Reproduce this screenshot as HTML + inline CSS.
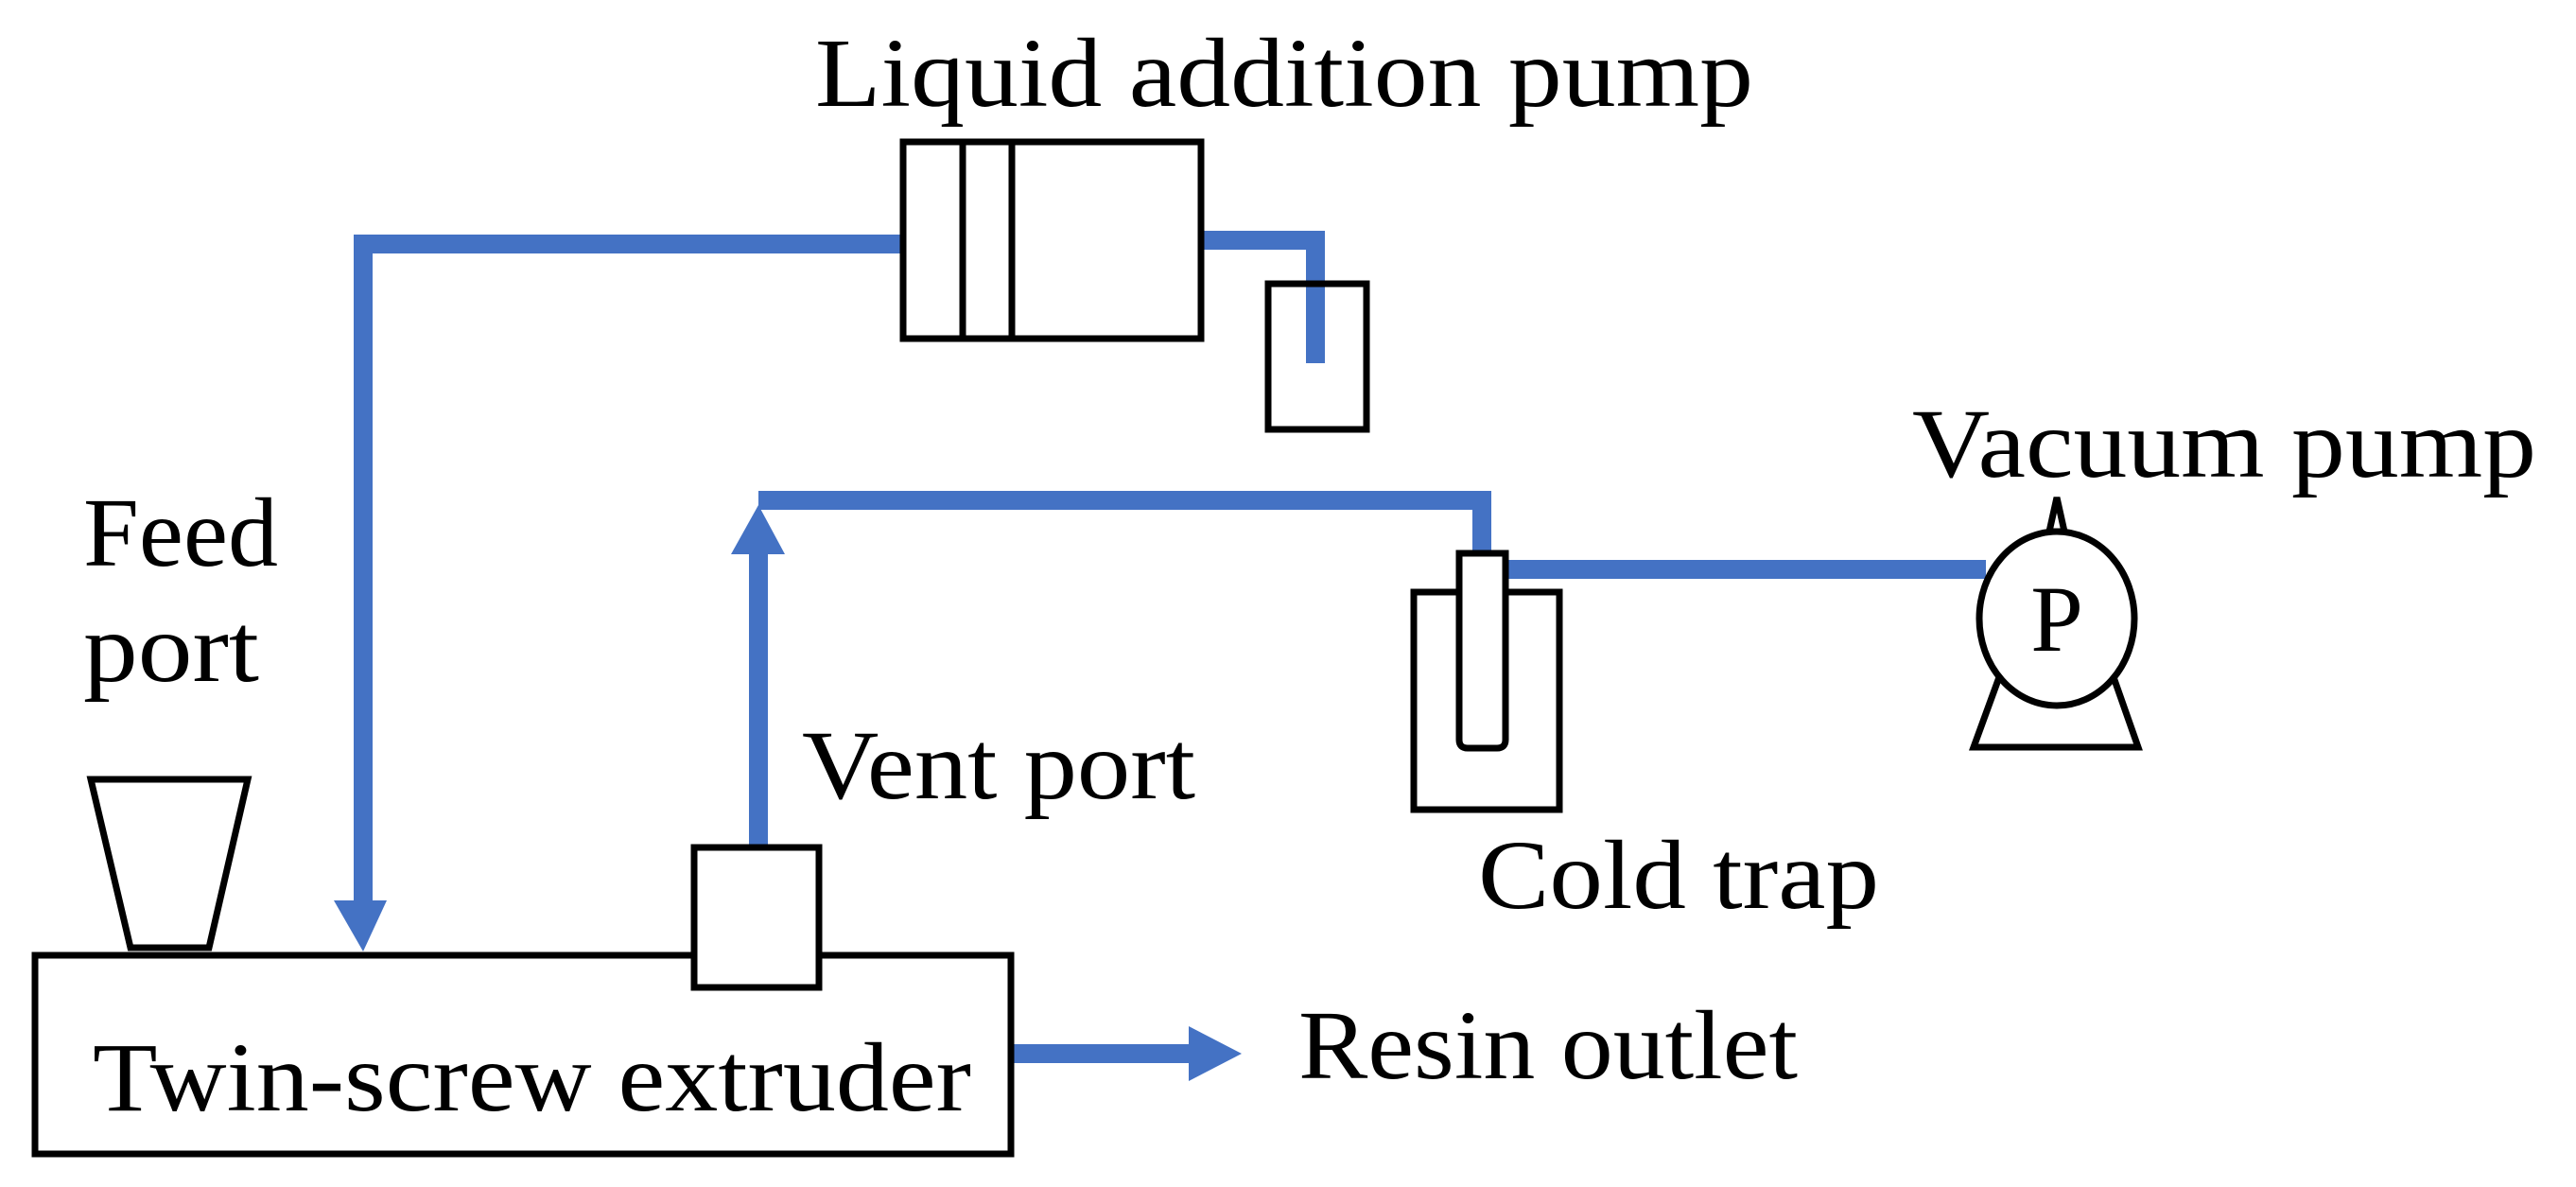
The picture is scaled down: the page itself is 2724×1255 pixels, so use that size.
<!DOCTYPE html>
<html><head><meta charset="utf-8"><style>html,body{margin:0;padding:0;background:#fff}svg{display:block}</style></head>
<body>
<svg width="2724" height="1255" viewBox="0 0 2724 1255" xmlns="http://www.w3.org/2000/svg">
<g fill="none" stroke="#4472C4" stroke-width="20">
<polyline points="955,258 384,258 384,955"/>
<polyline points="1270,254 1391,254 1391,384"/>
<polyline points="802,896 802,580"/>
<polyline points="802,529 1567,529 1567,587"/>
<line x1="1595" y1="602" x2="2100" y2="602"/>
<line x1="1069" y1="1114" x2="1260" y2="1114"/>
</g>
<g fill="#4472C4">
<polygon points="353,952 409,952 384,1006"/>
<polygon points="773,586 830,586 802,534"/>
<polygon points="1257,1085 1257,1143 1313,1114"/>
</g>
<g fill="none" stroke="#000" stroke-width="7">
<rect x="37" y="1010" width="1032" height="210"/>
<polygon points="96,824 262,824 221,1002 138,1002"/>
<rect x="734" y="896" width="132" height="148" fill="#fff"/>
<rect x="955" y="150" width="315" height="208" fill="#fff"/>
<line x1="1018" y1="150" x2="1018" y2="358"/>
<line x1="1070" y1="150" x2="1070" y2="358"/>
<rect x="1341" y="300" width="104" height="154"/>
<rect x="1495" y="626" width="154" height="230"/>
<path d="M1543,585 L1592,585 L1592,782 Q1592,791 1583,791 L1552,791 Q1543,791 1543,782 Z" fill="#fff"/>
<polygon points="2114,716 2087,790 2261,790 2235,716"/>
<ellipse cx="2175" cy="654" rx="82" ry="92" fill="#fff"/>
<polygon points="2167,562 2175,526 2183,562"/>
</g>
<rect x="1400" y="520" width="1" height="1" fill="none"/>
<g font-family="'Liberation Serif',serif" fill="#000" font-size="104">
<text x="862" y="112" textLength="992" lengthAdjust="spacingAndGlyphs">Liquid addition pump</text>
<text x="88" y="598" textLength="206" lengthAdjust="spacingAndGlyphs">Feed</text>
<text x="88" y="720" textLength="186" lengthAdjust="spacingAndGlyphs">port</text>
<text x="848" y="844" textLength="416" lengthAdjust="spacingAndGlyphs">Vent port</text>
<text x="98" y="1174" textLength="929" lengthAdjust="spacingAndGlyphs">Twin-screw extruder</text>
<text x="1373" y="1140" textLength="528" lengthAdjust="spacingAndGlyphs">Resin outlet</text>
<text x="1563" y="960" textLength="424" lengthAdjust="spacingAndGlyphs">Cold trap</text>
<text x="2022" y="504" textLength="660" lengthAdjust="spacingAndGlyphs">Vacuum pump</text>
<text x="2175" y="688" text-anchor="middle" font-size="100">P</text>
</g>
</svg>
</body></html>
